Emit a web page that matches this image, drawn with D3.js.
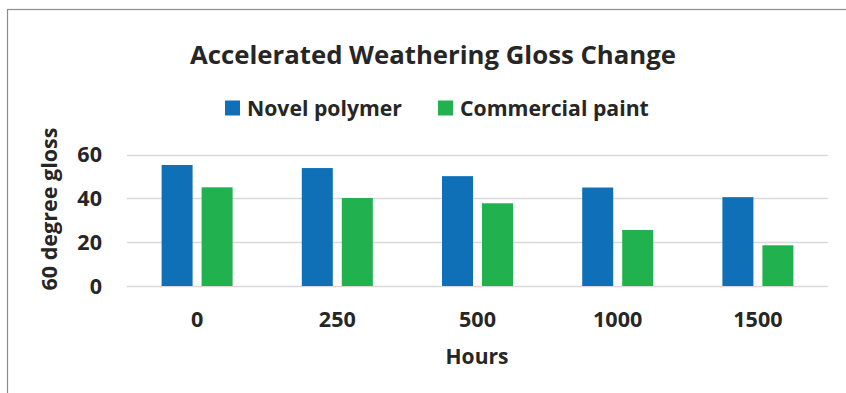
<!DOCTYPE html>
<html>
<head>
<meta charset="utf-8">
<script src="https://cdn.jsdelivr.net/npm/d3@7"></script>
<style>
  body { margin: 0; background: #fff; }
  svg text { font-family: "Open Sans", Lato, sans-serif; font-weight: bold; fill: #262626; }
</style>
</head>
<body>
<div id="container"></div>
<script>
// chart data
var hours = ["0", "250", "500", "1000", "1500"];
var seriesNames = ["Novel polymer", "Commercial paint"];
var novelPolymer = [55.3, 53.9, 50.2, 45, 40.6];
var commercialPaint = [45.1, 40.2, 37.8, 25.6, 18.6];
var yTicks = [0, 20, 40, 60];
var colors = ["#0f70b7", "#21b14f"];

var w = 846, h = 393;
var svg = d3.select("#container").append("svg")
  .attr("width", w).attr("height", h)
  .attr("viewBox", "0 0 " + w + " " + h);

// size a piece of text so it takes up the given width
function fitSize(str, width) {
  var t = svg.append("text").style("font-size", "20px").text(str);
  var len = t.node().getComputedTextLength();
  t.remove();
  return 20 * width / len;
}

// outer frame (runs off the right and bottom edges)
svg.append("rect")
  .attr("x", 7.5).attr("y", 9.5)
  .attr("width", 1000).attr("height", 600)
  .attr("fill", "none").attr("stroke", "#8c8c8c").attr("stroke-width", 1.2);

var plot = { left: 127, right: 828, top: 154.7, bottom: 286 };

var x = d3.scaleBand().domain(hours).range([plot.left, plot.right]);
var y = d3.scaleLinear().domain([0, 60]).range([plot.bottom, plot.top]);

var tickSize = fitSize("250", 37);

// gridlines
svg.append("g").selectAll("line").data(yTicks).enter().append("line")
  .attr("x1", plot.left).attr("x2", plot.right)
  .attr("y1", function(d) { return Math.round(y(d)) + 0.5; })
  .attr("y2", function(d) { return Math.round(y(d)) + 0.5; })
  .attr("stroke", "#d9d9d9").attr("stroke-width", 1.3);

// y tick labels
svg.append("g").selectAll("text").data(yTicks).enter().append("text")
  .attr("x", 102).attr("y", function(d) { return y(d); })
  .attr("dy", "0.35em").attr("text-anchor", "end")
  .style("font-size", tickSize + "px")
  .text(function(d) { return d; });

// bars
var barW = 31, gap = 9;
var series = [novelPolymer, commercialPaint];
series.forEach(function(vals, si) {
  svg.append("g").selectAll("rect").data(vals).enter().append("rect")
    .attr("x", function(d, i) {
      var c = x(hours[i]) + x.bandwidth() / 2;
      return si === 0 ? c - gap / 2 - barW : c + gap / 2;
    })
    .attr("y", function(d) { return y(d); })
    .attr("width", barW)
    .attr("height", function(d) { return y(0) - y(d); })
    .attr("fill", colors[si]);
});

// x tick labels
svg.append("g").selectAll("text").data(hours).enter().append("text")
  .attr("x", function(d) { return x(d) + x.bandwidth() / 2; })
  .attr("y", 327).attr("text-anchor", "middle")
  .style("font-size", tickSize + "px")
  .text(function(d) { return d; });

// axis titles
svg.append("text").attr("x", 477).attr("y", 364).attr("text-anchor", "middle")
  .style("font-size", fitSize("Hours", 63) + "px").text("Hours");
svg.append("text")
  .attr("transform", "translate(57,209) rotate(-90)")
  .attr("text-anchor", "middle")
  .style("font-size", fitSize("60 degree gloss", 163) + "px").text("60 degree gloss");

// title
svg.append("text").attr("x", 433).attr("y", 64).attr("text-anchor", "middle")
  .style("font-size", fitSize("Accelerated Weathering Gloss Change", 486) + "px")
  .text("Accelerated Weathering Gloss Change");

// legend
var legendX = [225, 438];
var legendW = [155, 189];
seriesNames.forEach(function(name, i) {
  svg.append("rect").attr("x", legendX[i]).attr("y", 100.5)
    .attr("width", 15).attr("height", 15).attr("fill", colors[i]);
  svg.append("text").attr("x", legendX[i] + 22).attr("y", 115.5)
    .style("font-size", fitSize(name, legendW[i]) + "px").text(name);
});
</script>
</body>
</html>
